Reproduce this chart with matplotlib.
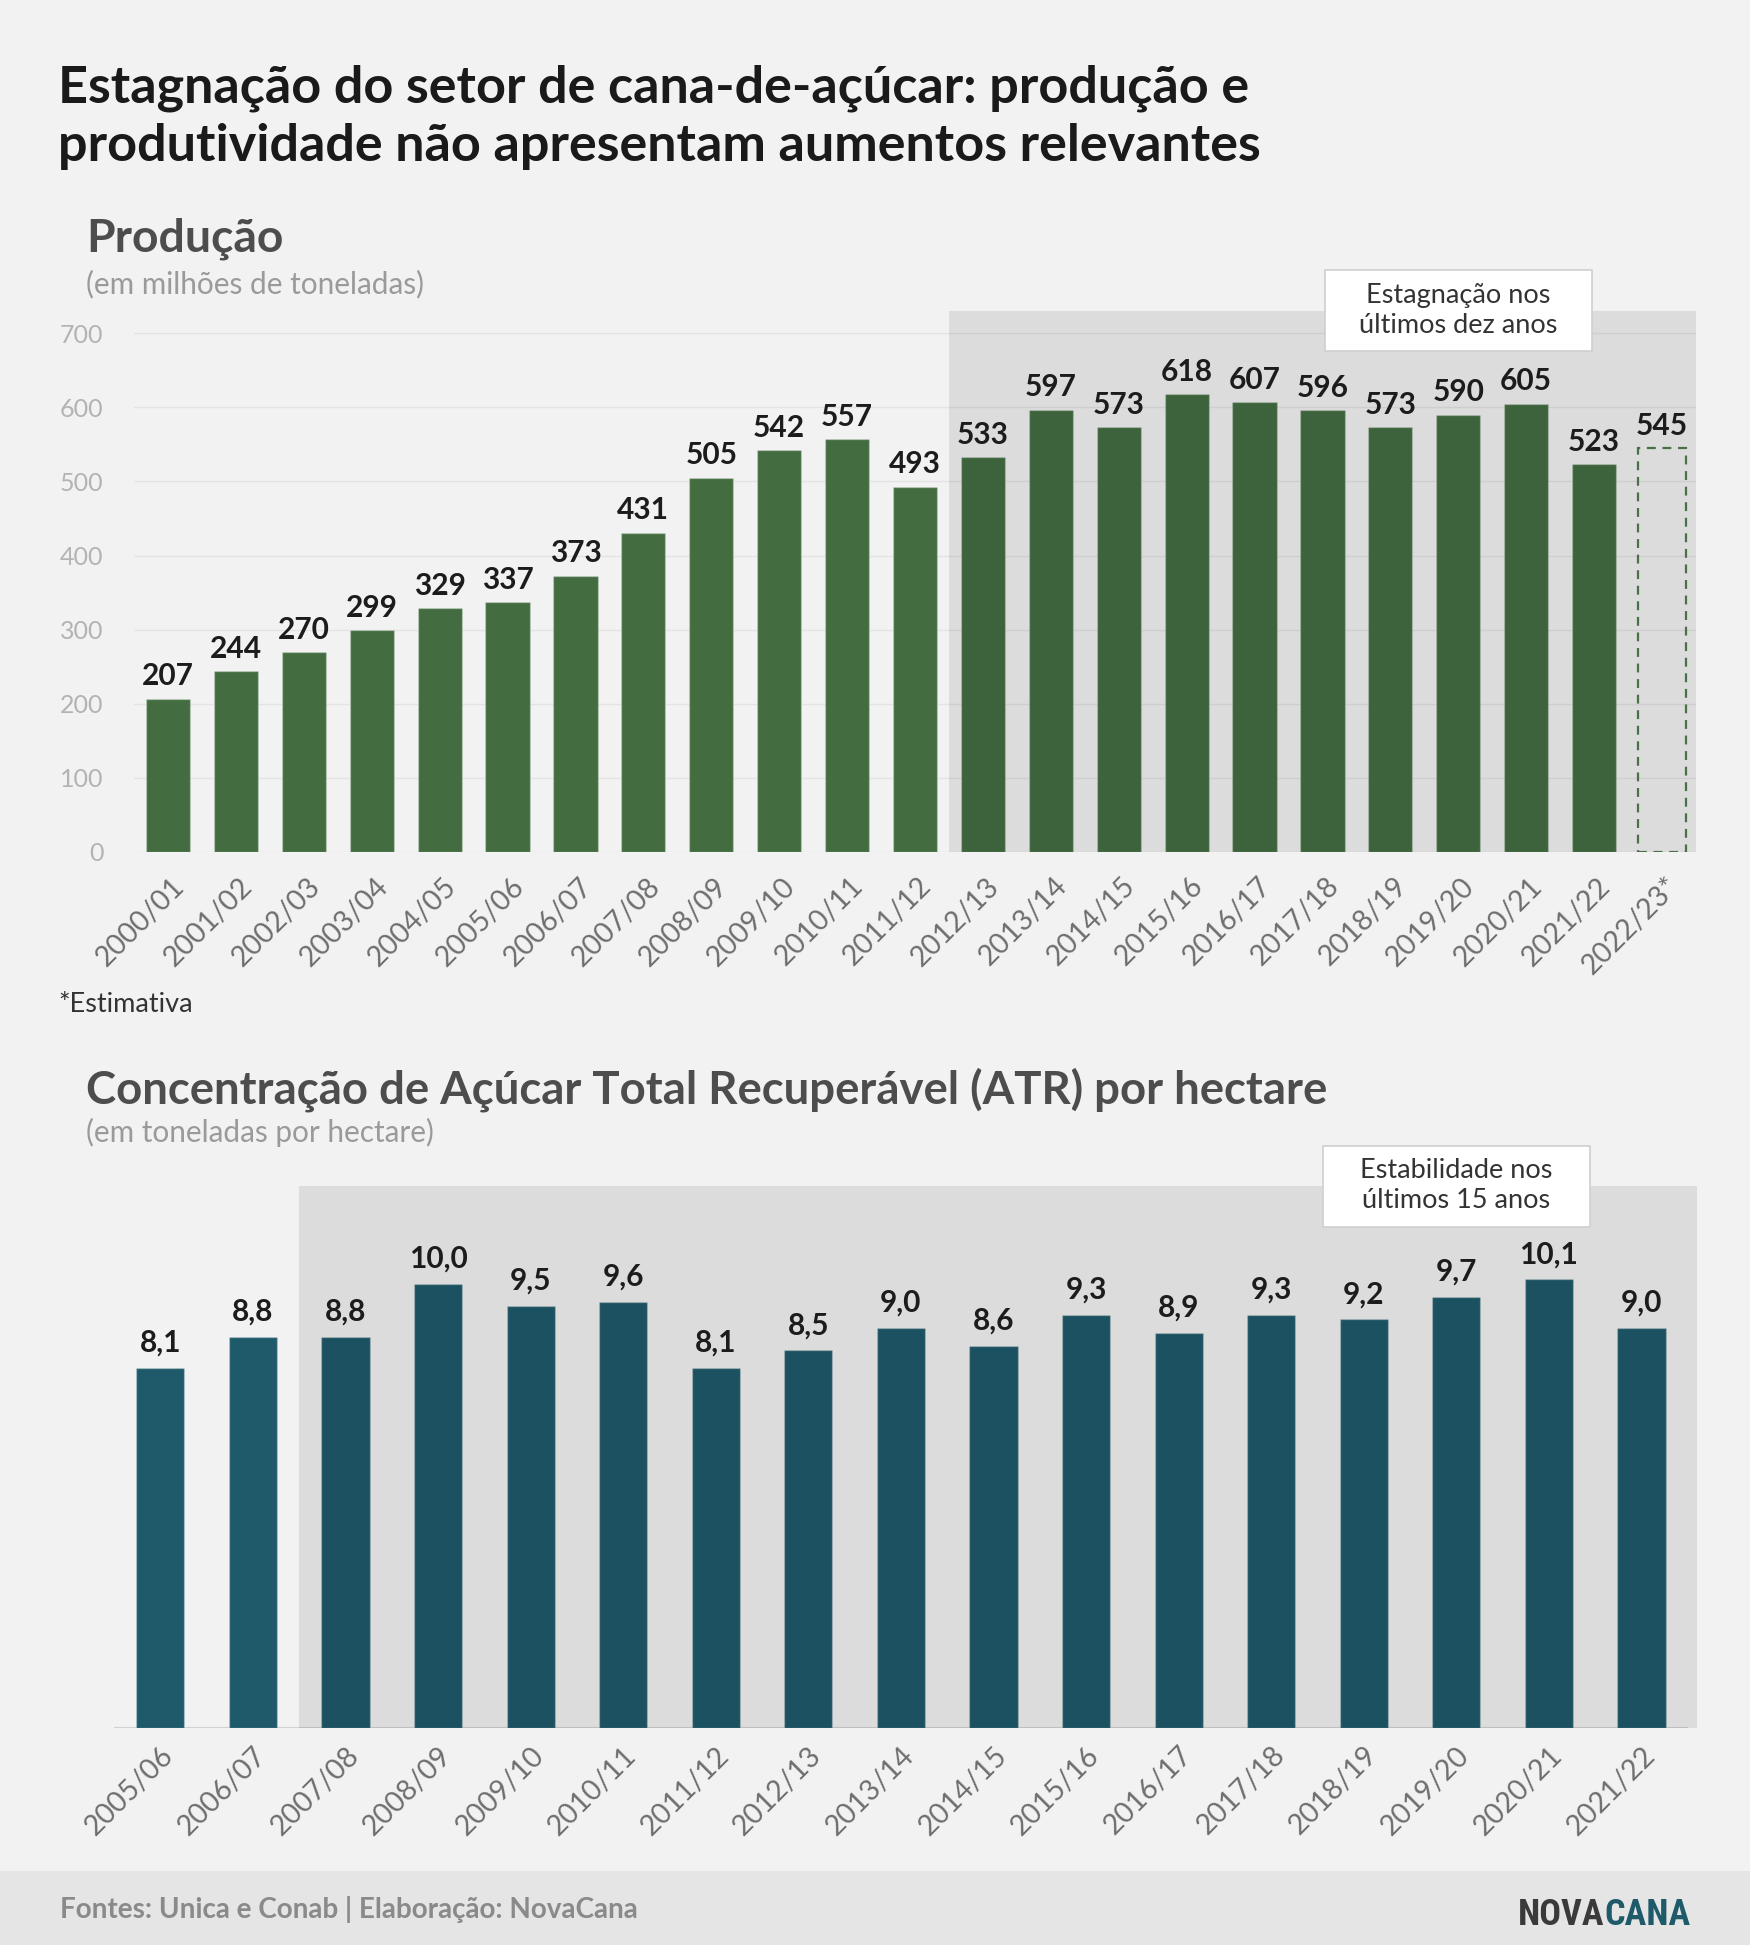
import matplotlib
matplotlib.use("Agg")
import matplotlib.pyplot as plt
from matplotlib.patches import Rectangle
from matplotlib.transforms import ScaledTranslation

plt.rcParams['font.family'] = ['Lato', 'DejaVu Sans']

W, H, DPI = 1750, 1945, 100

# ---- data: production (million tonnes)
prod_seasons = ["2000/01", "2001/02", "2002/03", "2003/04", "2004/05", "2005/06", "2006/07",
                "2007/08", "2008/09", "2009/10", "2010/11", "2011/12", "2012/13", "2013/14",
                "2014/15", "2015/16", "2016/17", "2017/18", "2018/19", "2019/20", "2020/21",
                "2021/22", "2022/23*"]
prod_values = [207, 244, 270, 299, 329, 337, 373, 431, 505, 542, 557, 493, 533, 597,
               573, 618, 607, 596, 573, 590, 605, 523, 545]
prod_yticks = [0, 100, 200, 300, 400, 500, 600, 700]
prod_span_start = "2012/13"
prod_note_at = "2019/20"

# ---- data: ATR per hectare (tonnes/ha)
atr_seasons = ["2005/06", "2006/07", "2007/08", "2008/09", "2009/10", "2010/11", "2011/12",
               "2012/13", "2013/14", "2014/15", "2015/16", "2016/17", "2017/18", "2018/19",
               "2019/20", "2020/21", "2021/22"]
atr_values = [8.1, 8.8, 8.8, 10.0, 9.5, 9.6, 8.1, 8.5, 9.0, 8.6, 9.3, 8.9, 9.3, 9.2, 9.7, 10.1, 9.0]
atr_span_start = "2007/08"
atr_note_at = "2019/20"

BG = "#f2f2f2"
GREEN = "#436d41"
TEAL = "#1e5a6a"
LABEL = "#1c1c1c"
CONDENSED = ["Noto Sans ExtraCondensed", "Noto Sans Condensed", "Roboto Condensed",
             "Liberation Sans Narrow", "DejaVu Sans"]

fig = plt.figure(figsize=(W / DPI, H / DPI), dpi=DPI, facecolor=BG)


def ftext(x, y, s, **kw):
    """text at pixel position (x from left, y from top)"""
    return fig.text(x / W, 1 - y / H, s, **kw)


def axes_px(left, top, right, bottom):
    return fig.add_axes([left / W, 1 - bottom / H, (right - left) / W, (bottom - top) / H])


def shade_and_note(ax, start_idx, note_idx, note, box_w_px=267, box_h_px=81):
    x0, x1 = ax.get_xlim()
    y0, y1 = ax.get_ylim()
    ax.axvspan(start_idx - 0.5, x1, color="black", alpha=0.09, lw=0, zorder=3)
    bb = ax.get_position()
    ux = (x1 - x0) / (bb.width * W)
    uy = (y1 - y0) / (bb.height * H)
    bw, bh = box_w_px * ux, box_h_px * uy
    ax.add_patch(Rectangle((note_idx - bw / 2, y1 - bh / 2), bw, bh, facecolor="white",
                           edgecolor="#cfcfcf", lw=1.2, zorder=6, clip_on=False))
    ax.text(note_idx, y1, note, ha="center", va="center", fontsize=19.5, color="#333333",
            linespacing=1.25, zorder=7, clip_on=False)


def xlabels(ax, labels, pad, dx_px):
    ax.set_xticks(range(len(labels)))
    ax.set_xticklabels(labels, rotation=45, ha="right", va="top", rotation_mode="anchor")
    ax.tick_params(axis="x", length=0, pad=pad, labelsize=20.5, labelcolor="#6e6e6e")
    off = ScaledTranslation(dx_px / DPI, 0, fig.dpi_scale_trans)
    for lbl in ax.get_xticklabels():
        lbl.set_transform(lbl.get_transform() + off)


# ---- titles
ftext(58, 103, "Estagnação do setor de cana-de-açúcar: produção e", fontsize=37.5,
      fontweight="bold", color="#1a1a1a", va="baseline")
ftext(58, 161, "produtividade não apresentam aumentos relevantes", fontsize=37.5,
      fontweight="bold", color="#1a1a1a", va="baseline")

# ---- production chart
ftext(86, 252, "Produção", fontsize=33.3, fontweight="bold", color="#4d4d4d", va="baseline")
ftext(86, 293, "(em milhões de toneladas)", fontsize=21.4, color="#9a9a9a", va="baseline")

ax1 = axes_px(134, 311, 1696, 852)
ax1.set_facecolor("none")
n1 = len(prod_values)
is_est = [s.endswith("*") for s in prod_seasons]
real_x = [i for i in range(n1) if not is_est[i]]
est_x = [i for i in range(n1) if is_est[i]]
b1 = ax1.bar(real_x, [prod_values[i] for i in real_x], width=0.65, color=GREEN,
             edgecolor=(1, 1, 1, 0.25), lw=1, zorder=2)
b1e = ax1.bar(est_x, [prod_values[i] for i in est_x], width=0.72, facecolor="none",
              edgecolor="#4a7048", lw=1.6, ls=(0, (4, 3)), zorder=4)
for cont, xs in ((b1, real_x), (b1e, est_x)):
    ax1.bar_label(cont, labels=[f"{prod_values[i]}" for i in xs], padding=6, fontsize=21.5,
                  fontweight="bold", color=LABEL, zorder=5)
ax1.set_xlim(-0.5, n1 - 0.5)
ax1.set_ylim(0, 730)
ax1.set_yticks(prod_yticks)
ax1.grid(axis="y", color="#e3e3e3", lw=1)
ax1.set_axisbelow(True)
ax1.tick_params(axis="y", length=0, pad=22, labelsize=18, labelcolor="#b3b3b3")
for s in ax1.spines.values():
    s.set_visible(False)
xlabels(ax1, prod_seasons, pad=15, dx_px=3)
shade_and_note(ax1, prod_seasons.index(prod_span_start), prod_seasons.index(prod_note_at),
               "Estagnação nos\núltimos dez anos")

ftext(58, 1012, "*Estimativa", fontsize=19.5, color="#333333", va="baseline")

# ---- ATR chart
ftext(86, 1103, "Concentração de Açúcar Total Recuperável (ATR) por hectare", fontsize=32.8,
      fontweight="bold", color="#4d4d4d", va="baseline")
ftext(86, 1142, "(em toneladas por hectare)", fontsize=21.4, color="#9a9a9a", va="baseline")

ax2 = axes_px(114, 1186, 1697, 1728)
ax2.set_facecolor("none")
n2 = len(atr_values)
b2 = ax2.bar(range(n2), atr_values, width=0.52, color=TEAL, edgecolor=(1, 1, 1, 0.25),
             lw=1, zorder=2)
ax2.bar_label(b2, labels=[f"{v:.1f}".replace(".", ",") for v in atr_values], padding=8,
              fontsize=21.5, fontweight="bold", color=LABEL, zorder=5)
ax2.set_xlim(-0.5, n2 - 0.4)
ax2.set_ylim(0, 12.2)
ax2.hlines(0, -0.5, n2 - 0.5, color="#d2d2d2", lw=1.5, zorder=1)
ax2.set_yticks([])
for s in ax2.spines.values():
    s.set_visible(False)
xlabels(ax2, atr_seasons, pad=10, dx_px=0)
shade_and_note(ax2, atr_seasons.index(atr_span_start), atr_seasons.index(atr_note_at),
               "Estabilidade nos\núltimos 15 anos")

# ---- footer
fig.patches.append(Rectangle((0, 0), 1, (H - 1871) / H, transform=fig.transFigure,
                             facecolor="#e5e5e5", edgecolor="none", zorder=0))
ftext(60, 1918, "Fontes: Unica e Conab | Elaboração: NovaCana", fontsize=20.1,
      fontweight="bold", color="#8a8a8a", va="baseline")
cana = ftext(1691, 1925, "CANA", fontsize=26, fontweight="heavy", color=TEAL, ha="right",
             va="baseline", family=CONDENSED, stretch="extra-condensed")
fig.canvas.draw()
fig.text(0, 0, "NOVA", fontsize=26, fontweight="heavy", color="#3a3a3a", ha="right",
         va="baseline", family=CONDENSED, stretch="extra-condensed",
         transform=cana.get_transform() + ScaledTranslation(
             -cana.get_window_extent().width / DPI, 0, fig.dpi_scale_trans)
         ).set_position(cana.get_position())

fig.savefig("out.png", dpi=DPI, facecolor=BG)
